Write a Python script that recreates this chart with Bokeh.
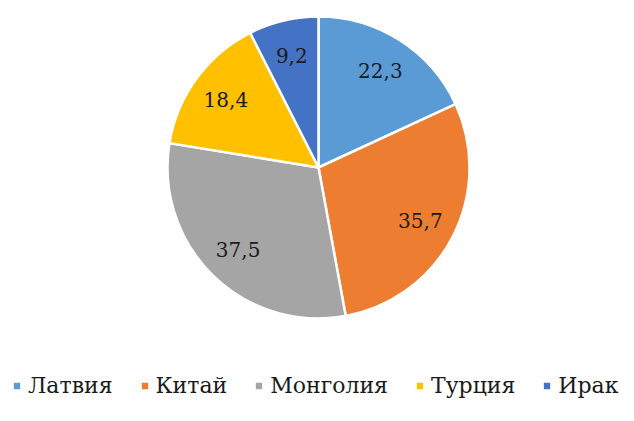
import math
from bokeh.plotting import figure
from bokeh.models import Range1d, ColumnDataSource, Legend, LegendItem
from bokeh.core.properties import value
from bokeh.embed import file_html
from bokeh.resources import INLINE

countries = ["Латвия", "Китай", "Монголия", "Турция", "Ирак"]
values = [22.3, 35.7, 37.5, 18.4, 9.2]
labels = ["22,3", "35,7", "37,5", "18,4", "9,2"]
colors = ["#5B9BD5", "#ED7D31", "#A5A5A5", "#FFC000", "#4472C4"]

W, H = 626, 405
cx, cy, r = 318, 238, 151
FONT = "DejaVu Serif"

total = sum(values)
starts, ends, lx, ly = [], [], [], []
cum = 0.0
for v in values:
    a0 = math.pi / 2 - 2 * math.pi * cum / total
    a1 = math.pi / 2 - 2 * math.pi * (cum + v) / total
    starts.append(a0)
    ends.append(a1)
    mid = (a0 + a1) / 2
    lx.append(cx + 0.76 * r * math.cos(mid))
    ly.append(cy + 0.76 * r * math.sin(mid))
    cum += v

src = ColumnDataSource(dict(country=countries, val=values, label=labels, color=colors,
                            start=starts, end=ends, lx=lx, ly=ly,
                            x=[cx] * len(values), y=[cy] * len(values)))

p = figure(width=W, height=H, output_backend="svg", toolbar_location=None,
           x_range=Range1d(0, W), y_range=Range1d(0, H), min_border=0)
p.axis.visible = False
p.grid.visible = False
p.outline_line_color = None

wr = p.wedge(x="x", y="y", radius=r, start_angle="start", end_angle="end", direction="clock",
             fill_color="color", line_color="white", line_width=2.5, source=src)

p.text(x="lx", y="ly", text="label", source=src, text_align="center", text_baseline="middle",
       text_font=value(FONT), text_font_size="20px", text_color="#1a1a1a")

items = [LegendItem(label=name, renderers=[wr], index=i) for i, name in enumerate(countries)]

legend = Legend(items=items, orientation="horizontal", location=(11, 7),
                glyph_width=11, glyph_height=11, label_standoff=6, spacing=26,
                padding=0, margin=0, border_line_color=None, background_fill_alpha=0,
                label_text_font=FONT, label_text_font_size="22px",
                label_text_color="#1a1a1a")
p.add_layout(legend, "center")

open("out.html", "w").write(file_html(p, INLINE))
